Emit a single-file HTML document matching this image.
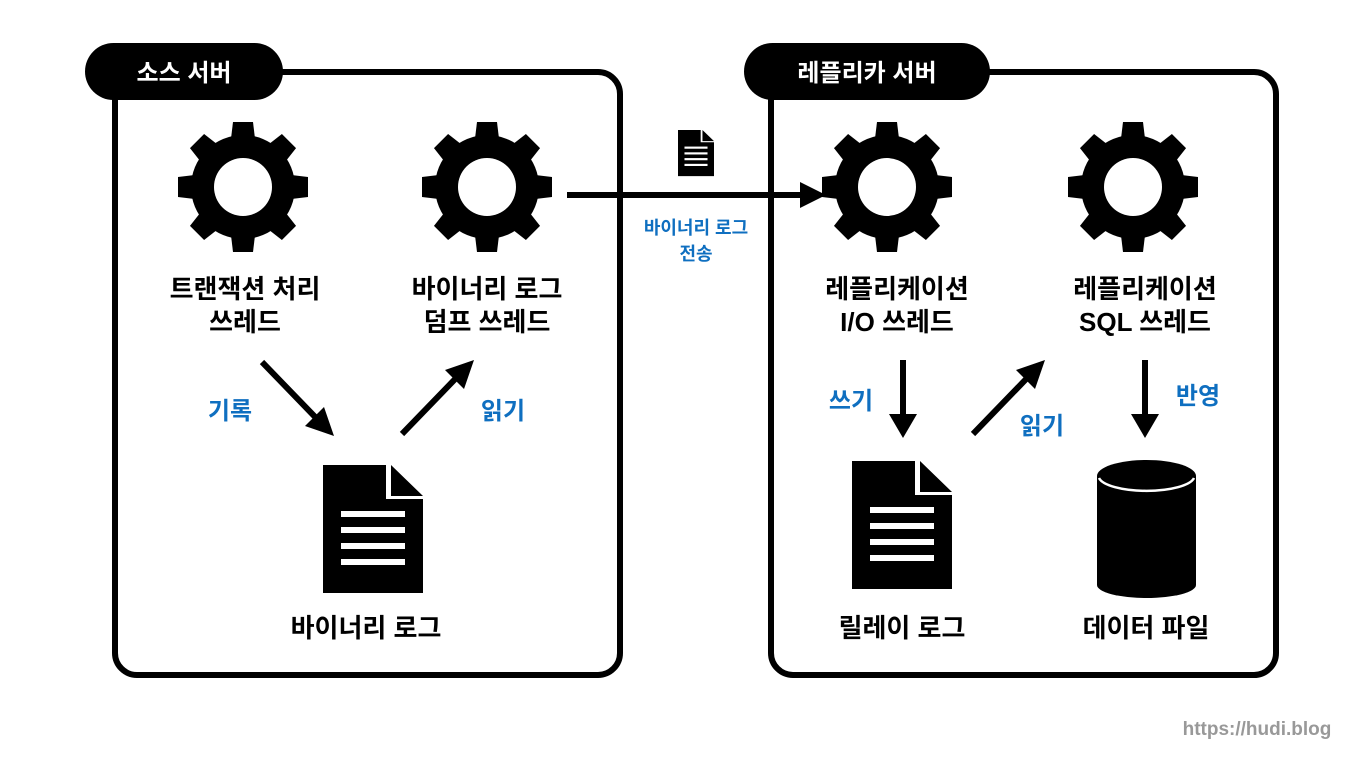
<!DOCTYPE html>
<html><head><meta charset="utf-8"><style>
html,body{margin:0;padding:0;background:#fff;}
body{width:1360px;height:765px;overflow:hidden;}
svg text{font-family:"Liberation Sans","Noto Sans CJK KR",sans-serif;font-weight:bold;}
</style></head><body>
<svg width="1360" height="765" viewBox="0 0 1360 765" xmlns="http://www.w3.org/2000/svg">
<defs>
<g id="gear">
  <circle r="52" fill="#000"/>
  <g fill="#000">
    <polygon points="-13,-40 13,-40 10,-65 -10,-65"/>
    <polygon points="-13,-40 13,-40 10,-65 -10,-65" transform="rotate(45)"/>
    <polygon points="-13,-40 13,-40 10,-65 -10,-65" transform="rotate(90)"/>
    <polygon points="-13,-40 13,-40 10,-65 -10,-65" transform="rotate(135)"/>
    <polygon points="-13,-40 13,-40 10,-65 -10,-65" transform="rotate(180)"/>
    <polygon points="-13,-40 13,-40 10,-65 -10,-65" transform="rotate(225)"/>
    <polygon points="-13,-40 13,-40 10,-65 -10,-65" transform="rotate(270)"/>
    <polygon points="-13,-40 13,-40 10,-65 -10,-65" transform="rotate(315)"/>
  </g>
  <circle r="29" fill="#fff"/>
</g>
<g id="doc">
  <path d="M0 0 H63 V34 H100 V128 H0 Z" fill="#000"/>
  <path d="M68 0 L100 31 H68 Z" fill="#000"/>
  <rect x="18" y="46" width="64" height="6" fill="#fff"/>
  <rect x="18" y="62" width="64" height="6" fill="#fff"/>
  <rect x="18" y="78" width="64" height="6" fill="#fff"/>
  <rect x="18" y="94" width="64" height="6" fill="#fff"/>
</g>
</defs>

<rect x="115" y="72" width="505" height="603" rx="22" fill="none" stroke="#000" stroke-width="6"/>
<rect x="771" y="72" width="505" height="603" rx="22" fill="none" stroke="#000" stroke-width="6"/>
<rect x="85" y="43" width="198" height="57" rx="28.5" fill="#000"/>
<rect x="744" y="43" width="246" height="57" rx="28.5" fill="#000"/>
<text x="184" y="81" font-size="24" fill="#fff" text-anchor="middle">소스 서버</text>
<text x="867" y="81" font-size="24" fill="#fff" text-anchor="middle">레플리카 서버</text>

<use href="#gear" x="243" y="187"/>
<use href="#gear" x="487" y="187"/>
<use href="#gear" x="887" y="187"/>
<use href="#gear" x="1133" y="187"/>

<use href="#doc" x="323" y="465"/>
<use href="#doc" x="852" y="461"/>
<g transform="translate(678,130) scale(0.36)"><use href="#doc"/></g>

<path d="M1097 476 V585 A49.5 13 0 0 0 1196 585 V476 Z" fill="#000"/>
<ellipse cx="1146.5" cy="476" rx="49.5" ry="16" fill="#000"/>
<path d="M1099 478 A48 15 0 0 0 1194 478" fill="none" stroke="#fff" stroke-width="2.5"/>

<g stroke="#000" stroke-width="6" fill="none">
  <line x1="262" y1="362" x2="320" y2="422"/>
  <line x1="402" y1="434" x2="460" y2="374"/>
  <line x1="567" y1="195" x2="808" y2="195"/>
  <line x1="903" y1="360" x2="903" y2="420"/>
  <line x1="973" y1="434" x2="1031" y2="374"/>
  <line x1="1145" y1="360" x2="1145" y2="420"/>
</g>
<g fill="#000">
  <polygon points="334,436 305,426 324,407"/>
  <polygon points="474,360 464,389 445,370"/>
  <polygon points="826,195 800,182 800,208"/>
  <polygon points="903,438 889,414 917,414"/>
  <polygon points="1045,360 1035,389 1016,370"/>
  <polygon points="1145,438 1131,414 1159,414"/>
</g>

<g font-size="26" fill="#000" text-anchor="middle">
  <text x="245" y="298">트랜잭션 처리</text>
  <text x="245" y="331">쓰레드</text>
  <text x="487" y="298">바이너리 로그</text>
  <text x="487" y="331">덤프 쓰레드</text>
  <text x="366" y="637">바이너리 로그</text>
  <text x="897" y="298">레플리케이션</text>
  <text x="897" y="331">I/O 쓰레드</text>
  <text x="1145" y="298">레플리케이션</text>
  <text x="1145" y="331">SQL 쓰레드</text>
  <text x="902" y="637">릴레이 로그</text>
  <text x="1146" y="637">데이터 파일</text>
</g>
<g font-size="24" fill="#0f6fc0" text-anchor="middle">
  <text x="230" y="419">기록</text>
  <text x="503" y="419">읽기</text>
  <text x="851" y="409">쓰기</text>
  <text x="1042" y="434">읽기</text>
  <text x="1198" y="404">반영</text>
</g>
<g font-size="18" fill="#0f6fc0" text-anchor="middle">
  <text x="696" y="234">바이너리 로그</text>
  <text x="696" y="260">전송</text>
</g>
<text x="1257" y="735" font-size="19" fill="#999" text-anchor="middle">https://hudi.blog</text>
</svg>
</body></html>
